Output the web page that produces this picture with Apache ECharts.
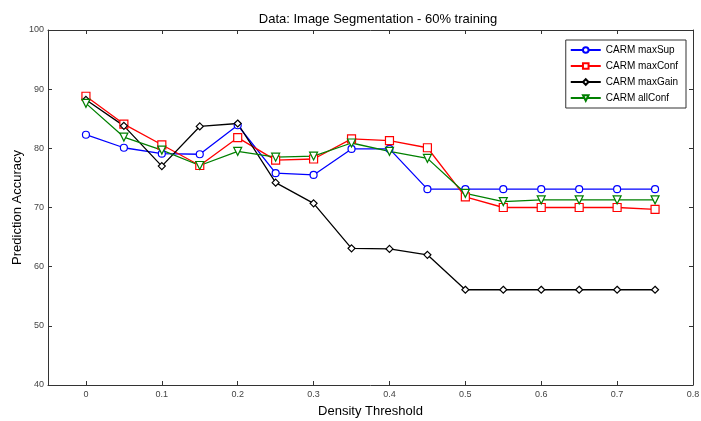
<!DOCTYPE html>
<html>
<head>
<meta charset="utf-8">
<script src="https://cdn.jsdelivr.net/npm/echarts@6/dist/echarts.min.js"></script>
<style>
  html, body { margin: 0; padding: 0; background: #fff; }
  #chart { width: 701px; height: 421px; }
</style>
</head>
<body>
<div id="chart"></div>
<script>
// density thresholds
const thresholds = [0, 0.05, 0.1, 0.15, 0.2, 0.25, 0.3, 0.35, 0.4, 0.45, 0.5, 0.55, 0.6, 0.65, 0.7, 0.75];
const maxSup  = [82.3, 80.1, 79.1, 79.0, 83.9, 75.8, 75.5, 79.9, 79.9, 73.1, 73.1, 73.1, 73.1, 73.1, 73.1, 73.1];
const maxConf = [88.8, 84.1, 80.6, 77.1, 81.8, 78.0, 78.2, 81.6, 81.3, 80.1, 71.8, 70.0, 70.0, 70.0, 70.0, 69.7];
const maxGain = [88.2, 83.8, 77.0, 83.7, 84.2, 74.2, 70.7, 63.1, 63.0, 62.0, 56.1, 56.1, 56.1, 56.1, 56.1, 56.1];
const allConf = [87.6, 81.9, 79.7, 77.1, 79.5, 78.5, 78.7, 80.9, 79.5, 78.3, 72.4, 71.0, 71.3, 71.3, 71.3, 71.3];
const xTicks = [0, 0.1, 0.2, 0.3, 0.4, 0.5, 0.6, 0.7, 0.8];

const font = "'Liberation Sans', Arial, sans-serif";
const chart = echarts.init(document.getElementById("chart"));

const pairs = (vals) => thresholds.map((t, i) => [t, vals[i]]);

const mkSeries = (name, vals, color, symbol, size) => ({
  name: name,
  type: "line",
  data: pairs(vals),
  symbol: symbol,
  symbolSize: size,
  showAllSymbol: true,
  lineStyle: { color: color, width: 1.3 },
  itemStyle: { color: "#fff", borderColor: color, borderWidth: 1.2 },
  emphasis: { disabled: true },
  animation: false,
});

const axisLine = { show: true, onZero: false, lineStyle: { color: "#333", width: 1 } };
const tick = { show: true, inside: true, length: 4, lineStyle: { color: "#333" } };

chart.setOption({
  animation: false,
  title: {
    text: "Data: Image Segmentation - 60% training",
    left: 373,
    textAlign: "center",
    top: 8,
    textStyle: { fontFamily: font, fontSize: 13, fontWeight: "normal", color: "#000" },
  },
  grid: { left: 48, right: 8, top: 30, bottom: 36, outerBoundsMode: "none", containLabel: false },
  legend: {
    orient: "vertical",
    right: 15,
    top: 40,
    itemWidth: 30,
    itemHeight: 7,
    itemGap: 6,
    padding: [5, 8, 5, 4],
    borderColor: "#333",
    borderWidth: 1,
    backgroundColor: "#fff",
    textStyle: { fontFamily: font, fontSize: 10, color: "#000" },
    data: ["CARM maxSup", "CARM maxConf", "CARM maxGain", "CARM allConf"],
  },
  xAxis: [
    {
      type: "value",
      min: -0.05,
      max: 0.8,
      name: "Density Threshold",
      nameLocation: "middle",
      nameGap: 20,
      nameMoveOverlap: false,
      nameTextStyle: { fontFamily: font, fontSize: 13, color: "#000" },
      axisLine: axisLine,
      splitLine: { show: false },
      axisTick: Object.assign({ customValues: xTicks }, tick),
      axisLabel: { fontFamily: font, fontSize: 9, color: "#444", margin: 5, customValues: xTicks },
    },
    {
      type: "value",
      position: "top",
      min: -0.05,
      max: 0.8,
      axisLine: axisLine,
      splitLine: { show: false },
      axisTick: Object.assign({ customValues: xTicks }, tick),
      axisLabel: { show: false, customValues: xTicks },
    },
  ],
  yAxis: [
    {
      type: "value",
      min: 40,
      max: 100,
      interval: 10,
      name: "Prediction Accuracy",
      nameLocation: "middle",
      nameGap: 24,
      nameMoveOverlap: false,
      nameTextStyle: { fontFamily: font, fontSize: 13, color: "#000" },
      axisLine: axisLine,
      splitLine: { show: false },
      axisTick: tick,
      axisLabel: { fontFamily: font, fontSize: 9, color: "#444", margin: 4 },
    },
    {
      type: "value",
      position: "right",
      min: 40,
      max: 100,
      interval: 10,
      axisLine: axisLine,
      splitLine: { show: false },
      axisTick: tick,
      axisLabel: { show: false },
    },
  ],
  series: [
    mkSeries("CARM maxSup", maxSup, "#0000ff", "circle", 7),
    mkSeries("CARM maxConf", maxConf, "#ff0000", "rect", 8),
    mkSeries("CARM maxGain", maxGain, "#000000", "diamond", 7),
    mkSeries("CARM allConf", allConf, "#008000", "path://M0,0 L10,0 L5,9 Z", 8),
  ],
});
</script>
</body>
</html>
